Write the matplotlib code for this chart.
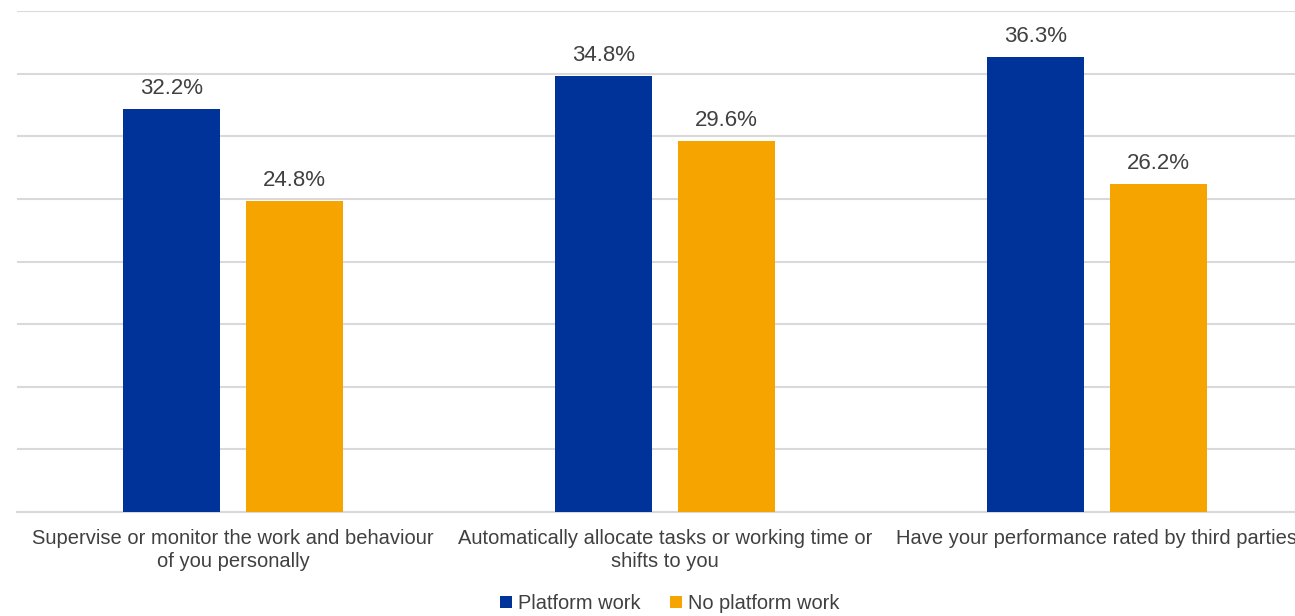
import matplotlib.pyplot as plt
import numpy as np

plt.rcParams['font.family'] = ['Liberation Sans', 'DejaVu Sans']

categories = [
    "Supervise or monitor the work and behaviour\nof you personally",
    "Automatically allocate tasks or working time or\nshifts to you",
    "Have your performance rated by third parties",
]
series_names = ["Platform work", "No platform work"]
platform = [32.2, 34.8, 36.3]
no_platform = [24.8, 29.6, 26.2]
colors = ["#003399", "#F5A400"]
text_color = "#404040"

fig = plt.figure(figsize=(12.95, 6.16), dpi=100)
# axes run past the right edge, as in the cropped original
ax = fig.add_axes([17 / 1295, 104 / 616, 1296 / 1295, 501 / 616])

x = np.arange(len(categories))
w = 0.2245
off = 0.142
b1 = ax.bar(x - off, platform, w, color=colors[0], label=series_names[0], zorder=3)
b2 = ax.bar(x + off, no_platform, w, color=colors[1], label=series_names[1], zorder=3)

for bars, vals in ((b1, platform), (b2, no_platform)):
    for bar, v in zip(bars, vals):
        ax.text(bar.get_x() + bar.get_width() / 2, v + 0.8, f"{v:.1f}%",
                ha="center", va="bottom", fontsize=16, color=text_color)

ax.set_xlim(-0.5, len(categories) - 0.5)
ax.set_ylim(0, 40)
ax.set_yticks(np.arange(0, 41, 5))
ax.set_yticklabels([])
ax.tick_params(axis="y", length=0)
ax.tick_params(axis="x", length=0, pad=12)
ax.set_xticks(x)
ax.set_xticklabels(categories, fontsize=14.5, color=text_color, linespacing=1.3)
ax.grid(axis="y", color="#d9d9d9", linewidth=1.5, zorder=0)
for s in ["top", "right", "left"]:
    ax.spines[s].set_visible(False)
ax.spines["bottom"].set_color("#d9d9d9")
ax.spines["bottom"].set_linewidth(1.5)

fig.legend(loc="center", bbox_to_anchor=(0.517, 0.02), ncol=2, frameon=False,
           fontsize=14.4, handlelength=0.6, handleheight=0.6, handletextpad=0.3,
           columnspacing=1.5, labelcolor=text_color)

fig.savefig("out.png", dpi=100)
